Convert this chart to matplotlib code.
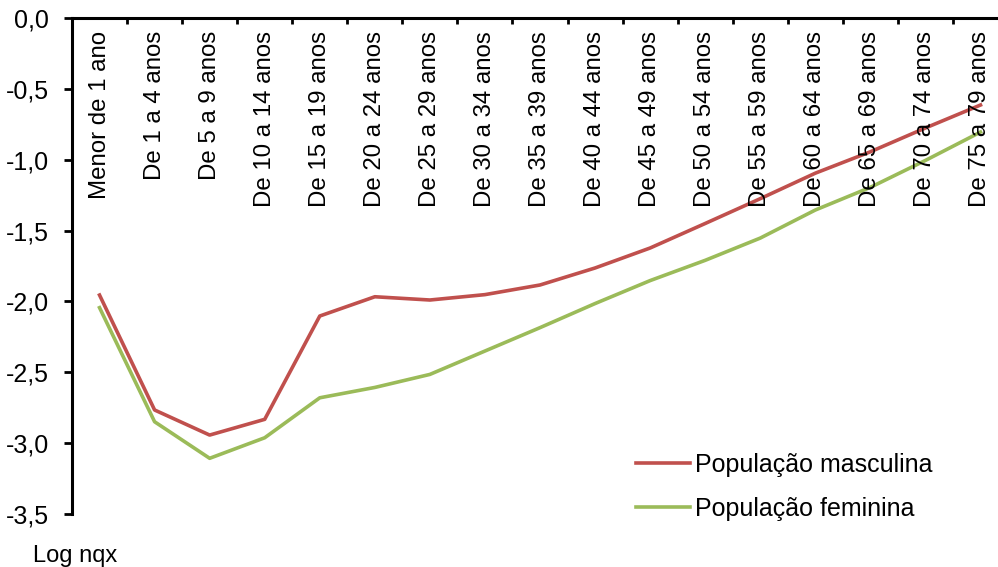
import numpy as np
import matplotlib.pyplot as plt
from matplotlib.ticker import FuncFormatter, FixedLocator

plt.rcParams['font.family'] = ['Liberation Sans', 'DejaVu Sans']
plt.rcParams['axes.unicode_minus'] = False

faixas = ['Menor de 1 ano', 'De 1 a 4 anos', 'De 5 a 9 anos', 'De 10 a 14 anos',
          'De 15 a 19 anos', 'De 20 a 24 anos', 'De 25 a 29 anos', 'De 30 a 34 anos',
          'De 35 a 39 anos', 'De 40 a 44 anos', 'De 45 a 49 anos', 'De 50 a 54 anos',
          'De 55 a 59 anos', 'De 60 a 64 anos', 'De 65 a 69 anos', 'De 70 a 74 anos',
          'De 75 a 79 anos']
masculina = [-1.955, -2.766, -2.943, -2.832, -2.103, -1.967, -1.990, -1.952, -1.884,
             -1.764, -1.623, -1.450, -1.275, -1.095, -0.944, -0.776, -0.614]
feminina = [-2.044, -2.849, -3.107, -2.962, -2.680, -2.607, -2.515, -2.350, -2.185,
            -2.015, -1.853, -1.710, -1.553, -1.355, -1.195, -1.005, -0.805]
y_ticks = [0.0, -0.5, -1.0, -1.5, -2.0, -2.5, -3.0, -3.5]

fig = plt.figure(figsize=(9.98, 5.67), dpi=100)
ax = fig.add_axes([72 / 998, 1 - 514 / 567, 1 - 72 / 998, (514 - 18) / 567])

x = np.arange(len(faixas))
ax.plot(x, masculina, color='#C0504D', linewidth=2.6, label='População masculina')
ax.plot(x, feminina, color='#9BBB59', linewidth=2.6, label='População feminina')

ax.set_xlim(-0.5, -0.5 + (998 - 72) / 55.06)
ax.set_ylim(-3.5, 0)

# eixo x no topo, marcas entre as categorias
ax.xaxis.tick_top()
ax.xaxis.set_major_locator(FixedLocator(np.arange(len(faixas)) + 0.5))
ax.xaxis.set_major_formatter(FuncFormatter(lambda v, p: ''))
ax.tick_params(axis='x', direction='in', length=4, width=2, top=True, bottom=False)
for i, nome in enumerate(faixas):
    ax.annotate(nome, xy=(i, 1), xycoords=('data', 'axes fraction'), xytext=(0, -13),
                textcoords='offset pixels', rotation=90, ha='center', va='top', fontsize=17.3)

ax.set_yticks(y_ticks)
ax.yaxis.set_major_formatter(FuncFormatter(lambda v, p: ('%.1f' % v).replace('.', ',')))
ax.tick_params(axis='y', direction='out', length=5.5, width=2, pad=11, labelsize=18)

ax.spines['right'].set_visible(False)
ax.spines['bottom'].set_visible(False)
ax.spines['left'].set_linewidth(2.2)
ax.spines['top'].set_linewidth(2.2)

leg = ax.legend(loc='upper left', bbox_to_anchor=(636 / 998, 1 - 453 / 567),
                bbox_transform=fig.transFigure, frameon=False, fontsize=18,
                handlelength=2.15, handletextpad=0.2, labelspacing=0.8,
                borderpad=0, borderaxespad=0)

fig.text(33 / 998, 1 - 562 / 567, 'Log nqx', fontsize=17, va='baseline', ha='left')

plt.savefig('out.png', dpi=100)
